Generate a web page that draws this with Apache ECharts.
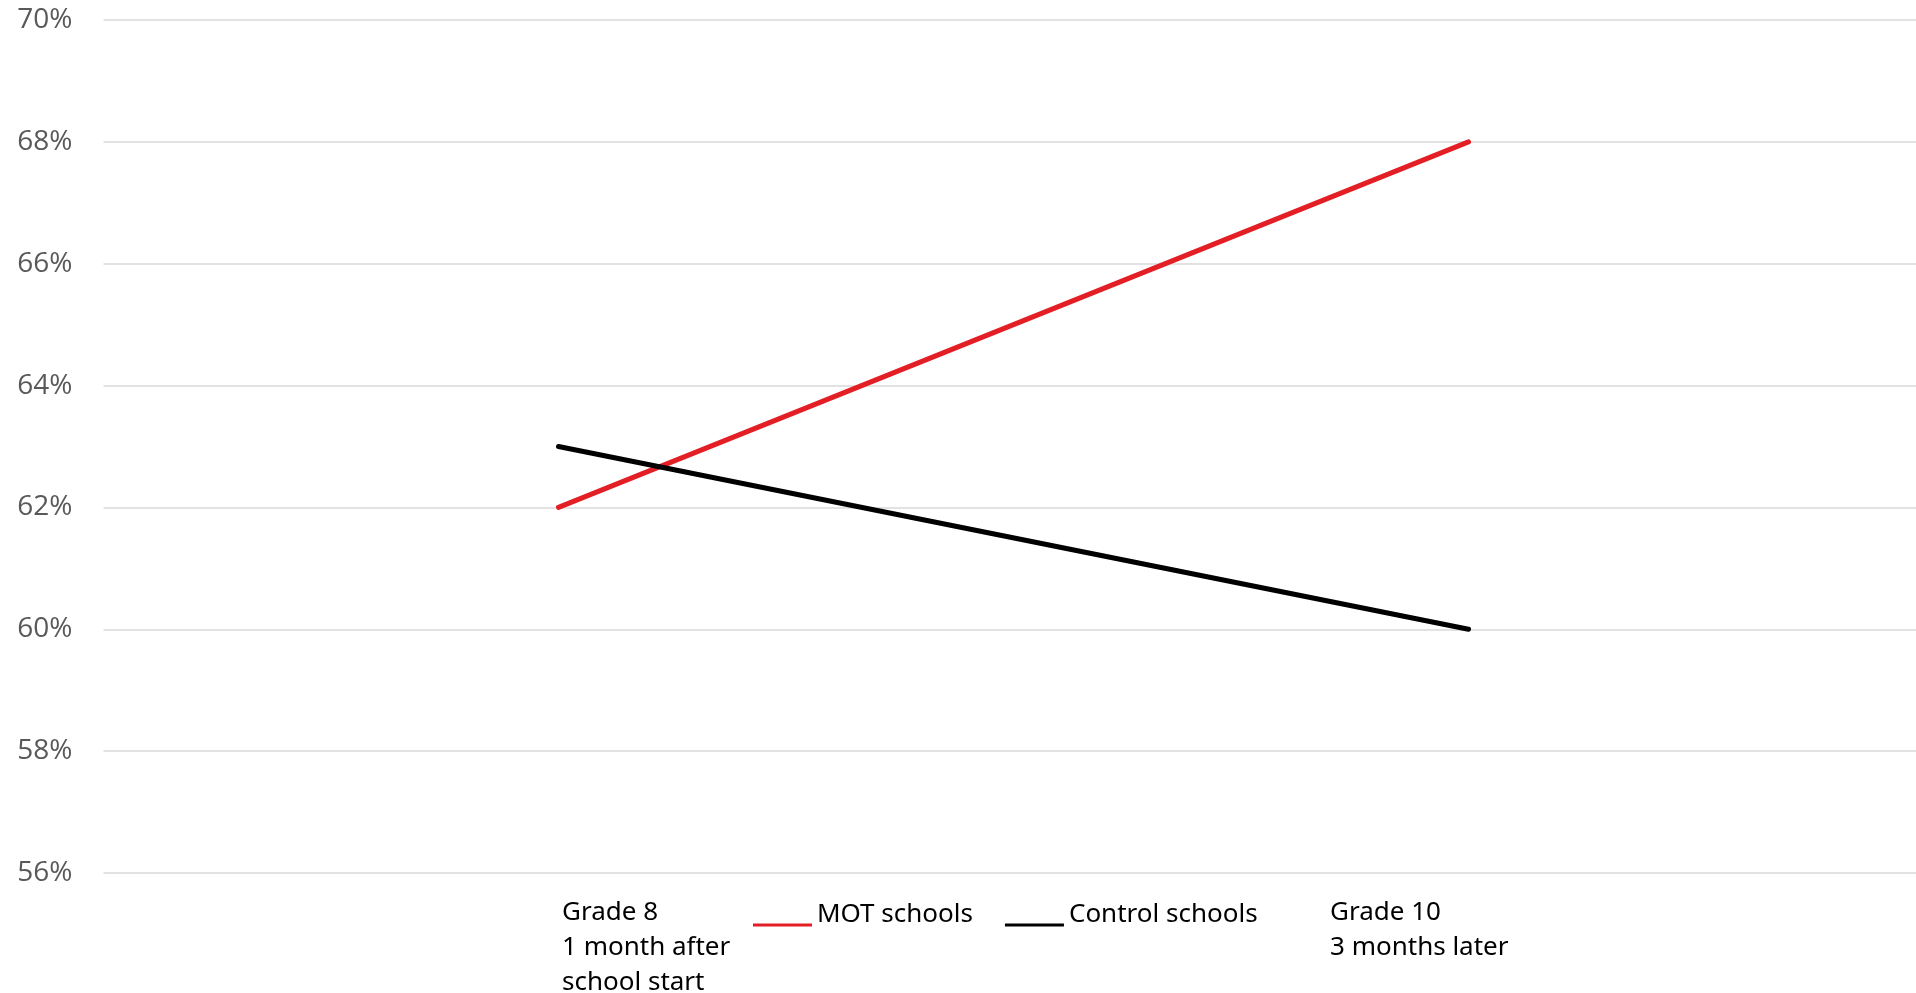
<!DOCTYPE html>
<html>
<head>
<meta charset="utf-8">
<script src="https://cdn.jsdelivr.net/npm/echarts@6/dist/echarts.min.js"></script>
<style>
  html, body { margin: 0; padding: 0; background: #fff; }
  #main { width: 1916px; height: 993px; }
</style>
</head>
<body>
<div id="main"></div>
<script>
var categories = ["Grade 8\n1 month after\nschool start", "Grade 10\n3 months later"];
var motSchools = [62, 68];
var controlSchools = [63, 60];
var yTicks = { min: 56, max: 70, interval: 2 };

var chartDom = document.getElementById("main");
var myChart = echarts.init(chartDom);
var option;

var textFont = "'Noto Sans', sans-serif";

option = {
  animation: false,
  // plot runs a bit past the right edge, as in the original
  grid: {
    left: 103.5, width: 1820, top: 20, bottom: 120,
    containLabel: false, outerBoundsMode: "none"
  },
  legend: {
    left: 748,
    top: 893,
    itemWidth: 59,
    itemHeight: 34,
    itemGap: 32,
    icon: "path://M0,0 M0,26 L60,26 L60,29 L0,29 Z M60,34",
    textStyle: { fontFamily: textFont, fontSize: 26, color: "#000" },
    data: ["MOT schools", "Control schools"]
  },
  xAxis: {
    type: "category",
    data: categories,
    boundaryGap: true,
    axisLine: { show: false },
    axisTick: { show: false },
    axisLabel: { show: false }
  },
  yAxis: {
    type: "value",
    min: yTicks.min,
    max: yTicks.max,
    interval: yTicks.interval,
    axisLine: { show: false },
    axisTick: { show: false },
    axisLabel: {
      formatter: "{value}%",
      margin: 31,
      color: "#595959",
      fontSize: 28,
      fontFamily: "'Open Sans', sans-serif"
    },
    splitLine: { lineStyle: { color: "#d9d9d9", width: 1.5 } }
  },
  series: [
    {
      name: "MOT schools",
      type: "line",
      data: motSchools,
      showSymbol: false,
      color: "#e31e24",
      lineStyle: { width: 5, cap: "round" }
    },
    {
      name: "Control schools",
      type: "line",
      data: controlSchools,
      showSymbol: false,
      color: "#000000",
      lineStyle: { width: 5, cap: "round" }
    }
  ]
};

option && myChart.setOption(option);

// category labels sit under the plot like a text box, left aligned
var labelLeft = [562, 1330];
myChart.setOption({
  graphic: categories.map(function (c, i) {
    return {
      type: "text",
      left: labelLeft[i],
      top: 895,
      style: {
        text: c,
        font: "26px " + textFont,
        lineHeight: 35,
        fill: "#000"
      }
    };
  })
});
</script>
</body>
</html>
